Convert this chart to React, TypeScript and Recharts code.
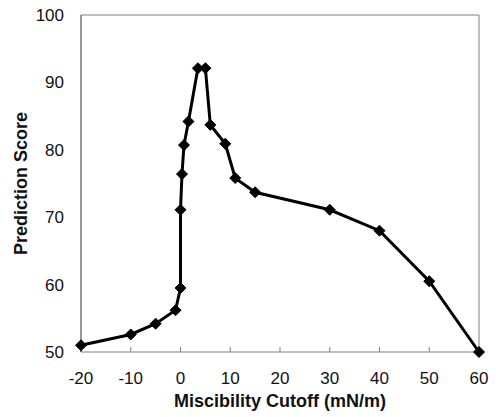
import React from 'react';
import { LineChart, Line, XAxis, YAxis, ReferenceLine } from 'recharts';

const cutoffs = [-20, -10, -5, -1, 0, 0, 0.3, 0.7, 1.6, 3.5, 5, 6, 9, 11, 15, 30, 40, 50, 60];
const scores = [51, 52.6, 54.2, 56.2, 59.5, 71.1, 76.4, 80.7, 84.2, 92.1, 92.1, 83.7, 80.9, 75.8, 73.7, 71.1, 68, 60.5, 50];
const xTicks = [-20, -10, 0, 10, 20, 30, 40, 50, 60];
const yTicks = [50, 60, 70, 80, 90, 100];

const data = cutoffs.map((c, i) => ({ cutoff: c, score: scores[i] }));

const Diamond = (props: any) => {
  const { cx, cy } = props;
  if (cx == null || cy == null) return null;
  const r = 5.5;
  return (
    <polygon
      points={`${cx},${cy - r} ${cx + r},${cy} ${cx},${cy + r} ${cx - r},${cy}`}
      fill="#000"
      stroke="#000"
    />
  );
};

const App = () => {
  const font = '"Liberation Sans", Arial, sans-serif';
  return (
    <div style={{ position: 'absolute', left: 0, top: 0, width: 496, height: 417, background: '#fff', fontFamily: font }}>
      <LineChart width={496} height={417} data={data} margin={{ top: 15, right: 17, left: 0, bottom: 0 }}>
        <XAxis
          dataKey="cutoff"
          type="number"
          domain={[-20, 60]}
          ticks={xTicks}
          interval={0}
          stroke="#808080"
          tickSize={-5}
          tickMargin={25}
          height={65}
          tick={{ fill: '#111', fontSize: 17, fontFamily: font }}
          label={{ value: 'Miscibility Cutoff (mN/m)', position: 'insideBottom', offset: 10, fill: '#111', fontSize: 18, fontWeight: 'bold', fontFamily: font }}
        />
        <YAxis
          type="number"
          domain={[50, 100]}
          ticks={yTicks}
          interval={0}
          width={81}
          stroke="#333"
          tickLine={false}
          tickSize={0}
          tickMargin={17}
          tick={{ fill: '#111', fontSize: 17, fontFamily: font }}
          label={{ value: 'Prediction Score', angle: -90, position: 'center', dx: -20, fill: '#111', fontSize: 18, fontWeight: 'bold', fontFamily: font }}
        />
        <ReferenceLine y={100} stroke="#808080" />
        <ReferenceLine x={60} stroke="#808080" />
        <Line
          type="linear"
          dataKey="score"
          stroke="#000"
          strokeWidth={3}
          dot={<Diamond />}
          isAnimationActive={false}
        />
      </LineChart>
    </div>
  );
};

export default App;
